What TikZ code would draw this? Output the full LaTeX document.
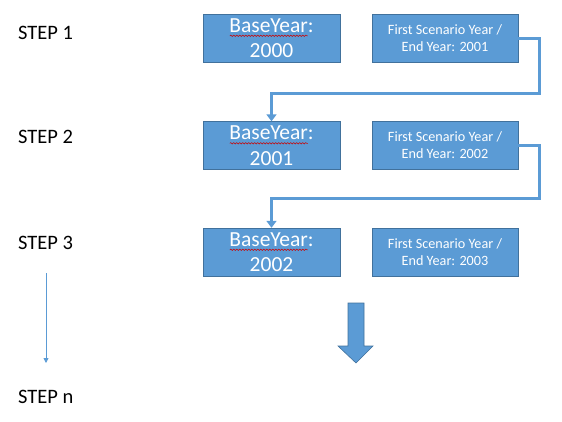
\documentclass[tikz,border=0pt]{standalone}
\usepackage{fontspec}
\setmainfont{Carlito}
\usetikzlibrary{arrows.meta,decorations.pathmorphing}
\definecolor{boxblue}{HTML}{5B9BD5}
\definecolor{boxedge}{HTML}{41719C}
\tikzset{
 basebox/.style={draw=boxedge,fill=boxblue,text=white,minimum width=137pt,minimum height=48pt,
  align=center,inner sep=0pt,font=\fontsize{21.5}{25.5}\selectfont},
 scenbox/.style={basebox,minimum width=146pt,font=\fontsize{14.2}{17}\selectfont},
 steplabel/.style={anchor=base west,inner sep=0pt,font=\fontsize{20.5}{24}\selectfont},
 link/.style={draw=boxblue,line width=3pt,-{Triangle[width=10pt,length=7pt]}},
 spellmark/.style={red!80!black,line width=0.5pt,decorate,decoration={snake,amplitude=0.7pt,segment length=3pt}}
}
\begin{document}
\begin{tikzpicture}[x=1pt,y=-1pt]
 \useasboundingbox (0,0) rectangle (562,421);
 % steps
 \node[steplabel] (st1) at (18,39.5) {STEP 1};
 \node[steplabel] (st2) at (18,143.5) {STEP 2};
 \node[steplabel] (st3) at (18,249.5) {STEP 3};
 \node[steplabel] (stn) at (18,403) {STEP n};
 \coordinate (down1) at (46,273);
 \coordinate (down2) at (46,363);
 \draw[boxblue,line width=0.8pt,-{Triangle[width=5pt,length=5pt]}] (down1)--(down2);
 % boxes
 \node[basebox] (b1) at (271.5,38) {BaseYear:\\2000};
 \node[basebox] (b2) at (271.5,145.5) {BaseYear:\\2001};
 \node[basebox] (b3) at (271.5,252) {BaseYear:\\2002};
 \node[scenbox] (s1) at (445,38) {First Scenario Year /\\End Year: 2001};
 \node[scenbox] (s2) at (445,145.5) {First Scenario Year /\\End Year: 2002};
 \node[scenbox] (s3) at (445,252) {First Scenario Year /\\End Year: 2003};
 \foreach \b in {b1,b2,b3}
  \draw[spellmark] ([xshift=27pt,yshift=-22pt]\b.north west) -- ++(78,0);
 % links
 \coordinate (bend1) at (539,93);
 \coordinate (bend2) at (539,198);
 \draw[link] (s1.east) -| (bend1) -| (b2.north);
 \draw[link] (s2.east) -| (bend2) -| (b3.north);
 % big arrow
 \filldraw[fill=boxblue,draw=boxedge,line width=0.6pt]
  (348,303)--(364,303)--(364,346)--(373,346)--(356,363)--(338,346)--(348,346)--cycle;
\end{tikzpicture}
\end{document}
